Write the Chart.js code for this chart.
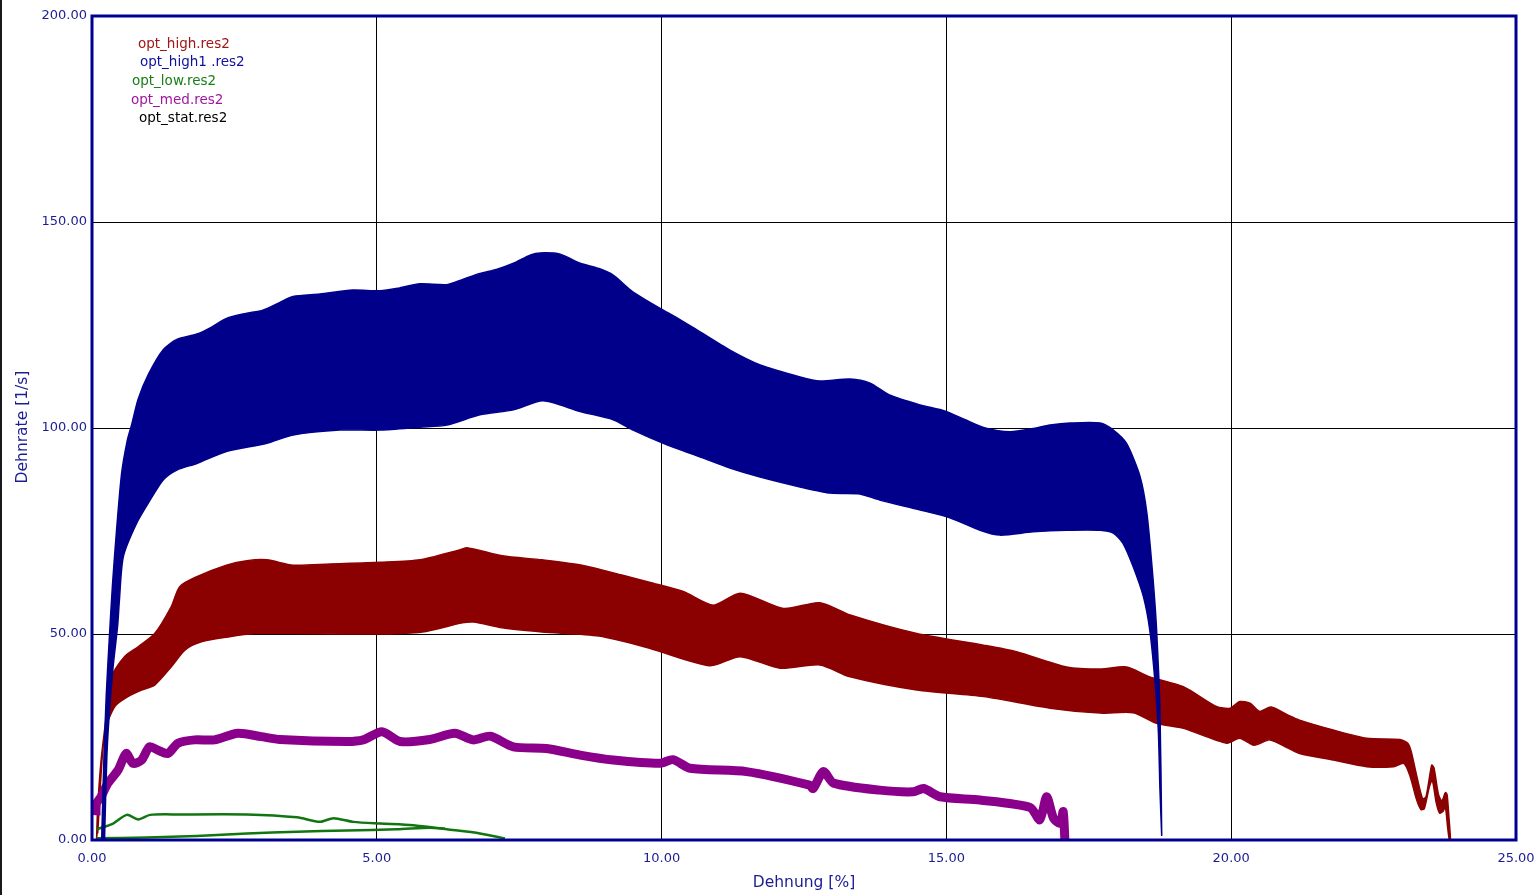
<!DOCTYPE html>
<html>
<head>
<meta charset="utf-8">
<title>Dehnrate über Dehnung</title>
<script src="https://cdn.jsdelivr.net/npm/chart.js"></script>
<style>
  html, body { margin: 0; padding: 0; background: #ffffff; }
  body { width: 1536px; height: 895px; overflow: hidden; }
  #wrap { position: relative; width: 1536px; height: 895px; }
  #edge { position: absolute; left: 0; top: 0; width: 2px; height: 895px; background: #1a1a1a; }
  canvas { display: block; }
</style>
</head>
<body>
<div id="wrap">
  <canvas id="chart" width="1536" height="895"></canvas>
  <div id="edge"></div>
</div>
<script>
// Strain [%] vs. strain rate [1/s] for five test files.
const seriesNames = ['opt_high.res2', 'opt_high1 .res2', 'opt_low.res2', 'opt_med.res2', 'opt_stat.res2'];
const xTicks = [0, 5, 10, 15, 20, 25];
const yTicks = [0, 50, 100, 150, 200];

// opt_high1: envelope of the oscillating rate signal (upper / lower), [strain, rate]
const high1Upper = [
  [0.17, 0], [0.21, 20], [0.25, 35], [0.30, 48], [0.36, 62], [0.43, 75], [0.52, 89], [0.62, 97],
  [0.70, 101], [0.81, 107], [0.99, 113], [1.25, 119], [1.49, 121.5], [1.84, 122.8], [2.10, 124.5],
  [2.36, 126.6], [2.70, 127.8], [3.00, 128.6], [3.30, 130.5], [3.53, 131.9], [4.00, 132.5],
  [4.58, 133.5], [5.06, 133.3], [5.40, 134], [5.76, 135], [6.23, 134.8], [6.50, 136], [6.81, 137.5],
  [7.10, 138.5], [7.40, 140], [7.70, 142], [7.87, 142.5], [8.22, 142.2], [8.57, 140], [8.90, 138.7],
  [9.15, 137.1], [9.50, 133], [10.03, 128.6], [10.30, 126.5], [10.62, 123.8], [11.20, 118.9],
  [11.73, 115.3], [12.43, 112.4], [12.78, 111.4], [13.31, 111.9], [13.66, 110.9], [14.00, 108],
  [14.54, 105.6], [14.98, 104.1], [15.33, 102], [15.68, 100], [16.12, 99.1], [16.50, 99.8],
  [16.82, 100.7], [17.17, 101.2], [17.70, 101.2], [17.93, 99.5], [18.16, 96.3], [18.40, 88.2],
  [18.52, 79.3], [18.63, 63], [18.69, 51], [18.75, 30.8], [18.78, 1]
];
const high1Lower = [
  [0.22, 0], [0.26, 20], [0.30, 30], [0.37, 42], [0.45, 52], [0.48, 58], [0.55, 68.8], [0.78, 76.8],
  [1.02, 82.5], [1.25, 87.4], [1.49, 89.8], [1.84, 91.4], [2.36, 94.3], [3.07, 96.3], [3.53, 98.3],
  [4.35, 99.5], [5.06, 99.5], [5.76, 100.2], [6.23, 100.7], [6.81, 103.2], [7.40, 104.4], [7.92, 106.6],
  [8.57, 104], [9.15, 102], [9.50, 99.5], [10.03, 96.3], [10.67, 93], [11.20, 90.3], [11.73, 88.1],
  [12.43, 85.7], [12.96, 84.2], [13.48, 84], [13.83, 82.5], [14.54, 80.1], [15.06, 78.2], [15.59, 75.2],
  [15.94, 74], [16.52, 74.8], [17.11, 75.2], [17.70, 75.2], [17.93, 74.5], [18.10, 72], [18.28, 66.3],
  [18.46, 59], [18.57, 51], [18.66, 38.8], [18.72, 26.7], [18.75, 12], [18.78, 1]
];

// opt_high: upper / lower envelope
const highUpper = [
  [0.08, 0], [0.10, 8], [0.16, 19.4], [0.25, 30], [0.34, 39.6], [0.57, 44.5], [0.81, 46.9], [1.10, 50.1],
  [1.39, 56.6], [1.54, 61.5], [1.84, 63.9], [2.36, 66.7], [2.72, 67.8], [3.07, 68], [3.53, 66.7],
  [4.18, 67], [5.06, 67.4], [5.76, 68], [6.45, 70.4], [6.60, 70.9], [7.20, 69], [7.90, 68], [8.60, 66.7],
  [9.30, 64.3], [9.80, 62.5], [10.38, 60.3], [10.91, 57], [11.38, 59.9], [12.14, 56.2], [12.78, 57.6],
  [13.31, 54.6], [14.48, 50.1], [15.65, 47.3], [16.23, 45.7], [17.11, 42], [17.70, 41.5], [18.16, 42],
  [18.57, 39.6], [19.16, 37.2], [19.74, 32.4], [19.98, 32], [20.15, 33.6], [20.33, 33.2], [20.50, 31.2],
  [20.70, 32.3], [21.00, 30.3], [21.20, 29.1], [21.79, 26.7], [22.38, 24.7], [22.96, 24.4], [23.10, 23.5],
  [23.16, 21.5], [23.25, 16], [23.36, 10], [23.42, 10.5], [23.52, 18.2], [23.56, 17.5], [23.64, 11],
  [23.70, 9.5], [23.76, 11.5], [23.79, 11], [23.82, 6], [23.85, 0]
];
const highLower = [
  [0.10, 1.6], [0.22, 26], [0.40, 32.4], [0.63, 34.8], [0.87, 36.4], [1.10, 37.6], [1.39, 42],
  [1.63, 46.1], [1.92, 48.1], [2.39, 49.3], [2.86, 50.1], [3.44, 50.1], [5.06, 50], [5.80, 50.5],
  [6.50, 52.7], [6.70, 52.9], [7.20, 51.5], [7.90, 50.5], [8.90, 49.5], [9.80, 46.5], [10.85, 42.3],
  [11.38, 44.5], [12.08, 41.7], [12.78, 42.5], [13.31, 39.6], [14.48, 36.4], [15.65, 34.8], [16.82, 32],
  [17.70, 30.8], [18.28, 30.9], [18.69, 28.3], [19.16, 27.1], [19.92, 23.5], [20.15, 24.7], [20.40, 23],
  [20.68, 24.3], [21.00, 22.3], [21.20, 21], [21.79, 19.4], [22.38, 17.8], [22.85, 17.8], [23.03, 18.6],
  [23.14, 15.5], [23.25, 10], [23.33, 7.4], [23.39, 7.6], [23.48, 13], [23.53, 14.5], [23.60, 9],
  [23.66, 6.5], [23.72, 7], [23.76, 8], [23.80, 3], [23.83, 0]
];

// opt_med: rate curve
const medCurve = [
  [0.07, 6], [0.08, 8.9], [0.16, 10.5], [0.28, 13.8], [0.46, 17], [0.60, 21], [0.72, 18.6], [0.87, 19.4],
  [1.01, 22.6], [1.16, 21.8], [1.33, 21], [1.51, 23.5], [1.80, 24.3], [2.15, 24.3], [2.56, 25.9],
  [2.97, 25.1], [3.30, 24.4], [4.47, 23.9], [4.76, 24.3], [5.09, 26.3], [5.41, 23.9], [5.93, 24.4],
  [6.37, 25.9], [6.69, 24.3], [6.99, 25.2], [7.40, 22.6], [7.98, 22.2], [8.57, 20.6], [9.15, 19.4],
  [9.97, 18.6], [10.20, 19.5], [10.50, 17.4], [11.49, 16.6], [12.60, 13.3], [12.66, 12.5], [12.84, 16.6],
  [13.02, 13.8], [13.83, 12.1], [14.42, 11.7], [14.60, 12.5], [14.89, 10.5], [15.59, 9.7], [16.47, 7.9],
  [16.64, 4.9], [16.76, 10.5], [16.88, 5.3], [17.00, 4.0], [17.05, 6.9], [17.08, 0]
];

// opt_low: loading and unloading branch
const lowUpper = [
  [0.08, 2.6], [0.37, 4.0], [0.61, 6.1], [0.81, 5.0], [1.02, 6.1], [1.54, 6.2], [2.72, 6.2], [3.60, 5.5],
  [4.00, 4.4], [4.24, 5.3], [4.59, 4.4], [5.06, 4.0], [5.64, 3.6], [6.23, 2.6], [6.81, 1.6], [7.25, 0.4]
];
const lowLower = [
  [0.08, 0.4], [0.96, 0.6], [1.84, 1.0], [2.72, 1.6], [3.60, 2.0], [4.47, 2.3], [5.35, 2.6], [5.93, 3.0],
  [6.20, 2.8]
];

// opt_stat: no rate data in range
const statCurve = [];

const toPts = arr => arr.map(([x, y]) => ({ x, y }));
const band = (upper, lower) => toPts(upper.concat(lower.slice().reverse()));

const COLORS = {
  high: '#8b0000', high1: '#00008b', low: '#117511', med: '#8b008b', stat: '#000000'
};
const TEXT_COLORS = ['#a31515', '#1010a0', '#178017', '#a016a0', '#000000'];
const AXIS_COLOR = '#1c1c94';
const FRAME_COLOR = '#000090';
const FONT = 'DejaVu Sans';

const decor = {
  id: 'decor',
  afterDatasetsDraw(chart) {
    const { ctx, chartArea: a } = chart;
    ctx.save();
    ctx.strokeStyle = FRAME_COLOR;
    ctx.lineWidth = 3;
    ctx.strokeRect(a.left, a.top, a.right - a.left, a.bottom - a.top);
    ctx.restore();
  },
  afterDraw(chart) {
    const { ctx } = chart;
    ctx.save();
    ctx.fillStyle = AXIS_COLOR;
    ctx.font = '15.5px "' + FONT + '"';
    ctx.textAlign = 'center';
    ctx.textBaseline = 'middle';
    ctx.fillText('Dehnung [%]', 804, 883);
    ctx.translate(23, 427);
    ctx.rotate(-Math.PI / 2);
    ctx.fillText('Dehnrate [1/s]', 0, 0);
    ctx.restore();

    // legend text block
    const spots = [[138, 44], [140, 62], [132, 81], [131, 100], [139, 118]];
    ctx.save();
    ctx.font = '13.5px "' + FONT + '"';
    ctx.textAlign = 'left';
    ctx.textBaseline = 'middle';
    seriesNames.forEach((name, i) => {
      ctx.fillStyle = TEXT_COLORS[i];
      ctx.fillText(name, spots[i][0], spots[i][1]);
    });
    ctx.restore();
  }
};

const lineBase = { pointRadius: 0, pointHoverRadius: 0, tension: 0.25 };

new Chart(document.getElementById('chart'), {
  type: 'line',
  data: {
    datasets: [
      Object.assign({}, lineBase, {
        label: seriesNames[1], data: band(high1Upper, high1Lower),
        borderColor: COLORS.high1, backgroundColor: COLORS.high1, borderWidth: 1.5, fill: 'shape'
      }),
      Object.assign({}, lineBase, {
        label: seriesNames[2], data: toPts(lowUpper),
        borderColor: COLORS.low, borderWidth: 2.5, fill: false
      }),
      Object.assign({}, lineBase, {
        label: seriesNames[2] + ' ', data: toPts(lowLower),
        borderColor: COLORS.low, borderWidth: 2.5, fill: false
      }),
      Object.assign({}, lineBase, {
        label: seriesNames[3], data: toPts(medCurve),
        borderColor: COLORS.med, borderWidth: 9, borderJoinStyle: 'round', fill: false
      }),
      Object.assign({}, lineBase, {
        label: seriesNames[0], data: band(highUpper, highLower),
        borderColor: COLORS.high, backgroundColor: COLORS.high, borderWidth: 1.5, fill: 'shape'
      }),
      Object.assign({}, lineBase, {
        label: seriesNames[4], data: toPts(statCurve),
        borderColor: COLORS.stat, borderWidth: 1, fill: false
      })
    ]
  },
  options: {
    responsive: false,
    animation: false,
    devicePixelRatio: 1,
    events: [],
    layout: { autoPadding: false, padding: { top: 16, right: 20, left: 0, bottom: 0 } },
    plugins: { legend: { display: false }, tooltip: { enabled: false }, title: { display: false } },
    scales: {
      x: {
        type: 'linear', min: 0, max: 25,
        afterBuildTicks: s => { s.ticks = xTicks.map(v => ({ value: v })); },
        afterFit: s => { s.height = 55; s.paddingLeft = 0; s.paddingRight = 0; },
        ticks: {
          color: AXIS_COLOR, font: { family: FONT, size: 13 }, padding: 11, maxRotation: 0,
          callback: v => Number(v).toFixed(2)
        },
        grid: { color: '#000000', lineWidth: 1, drawTicks: false },
        border: { display: false }
      },
      y: {
        type: 'linear', min: 0, max: 200,
        afterBuildTicks: s => { s.ticks = yTicks.map(v => ({ value: v })); },
        afterFit: s => { s.width = 92; s.paddingTop = 0; s.paddingBottom = 0; },
        ticks: {
          color: AXIS_COLOR, font: { family: FONT, size: 13 }, padding: 5,
          callback: v => Number(v).toFixed(2)
        },
        grid: { color: '#000000', lineWidth: 1, drawTicks: false },
        border: { display: false }
      }
    }
  },
  plugins: [decor]
});
</script>
</body>
</html>
